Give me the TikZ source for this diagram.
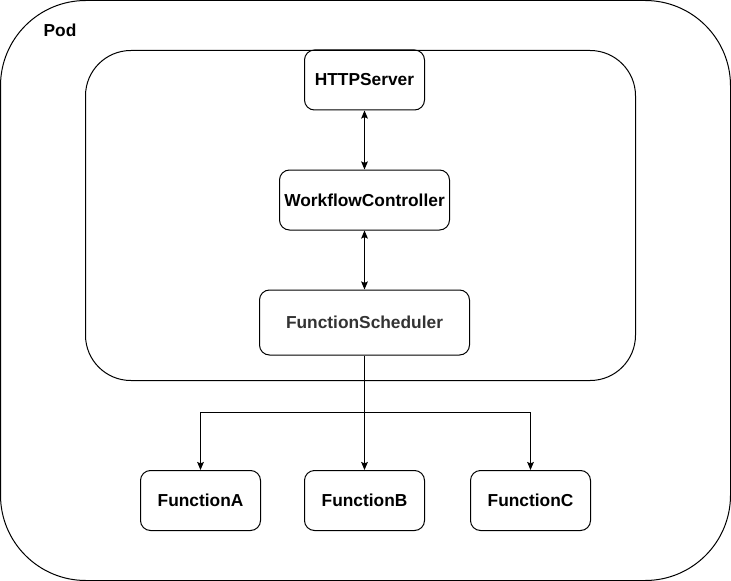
\documentclass[tikz,border=0pt]{standalone}
\usepackage{fontspec}
\setmainfont{Liberation Sans}
\usetikzlibrary{arrows.meta}
\begin{document}
\begin{tikzpicture}[x=0.75pt,y=-0.75pt,
  every node/.style={font=\fontsize{13}{15}\selectfont\bfseries},
  box/.style={draw=black,line width=0.75pt,rounded corners=7.5pt,minimum height=45pt,inner sep=0pt},
  conn/.style={line width=0.75pt,draw=black},
  tip/.style={-{Stealth[length=6pt,width=5pt,inset=1pt]}},
  tips/.style={{Stealth[length=6pt,width=5pt,inset=1pt]}-{Stealth[length=6pt,width=5pt,inset=1pt]}}]
\useasboundingbox (0,0) rectangle (731,581);
\draw[line width=0.75pt,rounded corners=64pt] (0.5,0.5) rectangle (730.5,580.5);
\node[anchor=center] (pod) at (60,30) {Pod};
\draw[line width=0.75pt,rounded corners=34pt] (85.5,50.5) rectangle (635.5,380.5);
\node[box,minimum width=90pt] (http) at (364.5,80) {HTTPServer};
\node[box,minimum width=127.5pt] (wc) at (364.5,200) {WorkflowController};
\node[box,minimum width=157.5pt,minimum height=48.75pt,text=black!80] (fs) at (364.5,322.5) {FunctionScheduler};
\node[box,minimum width=90pt] (fa) at (200.5,500.5) {FunctionA};
\node[box,minimum width=90pt] (fb) at (364.5,500.5) {FunctionB};
\node[box,minimum width=90pt] (fc) at (530.5,500.5) {FunctionC};
\draw[conn,tips] (http.south) -- (wc.north);
\draw[conn,tips] (wc.south) -- (fs.north);
\coordinate (br) at (364.5,412.5);
\draw[conn,tip] (fs.south) -- (fb.north);
\draw[conn,tip] (br) -| (fa.north);
\draw[conn,tip] (br) -| (fc.north);
\end{tikzpicture}
\end{document}
